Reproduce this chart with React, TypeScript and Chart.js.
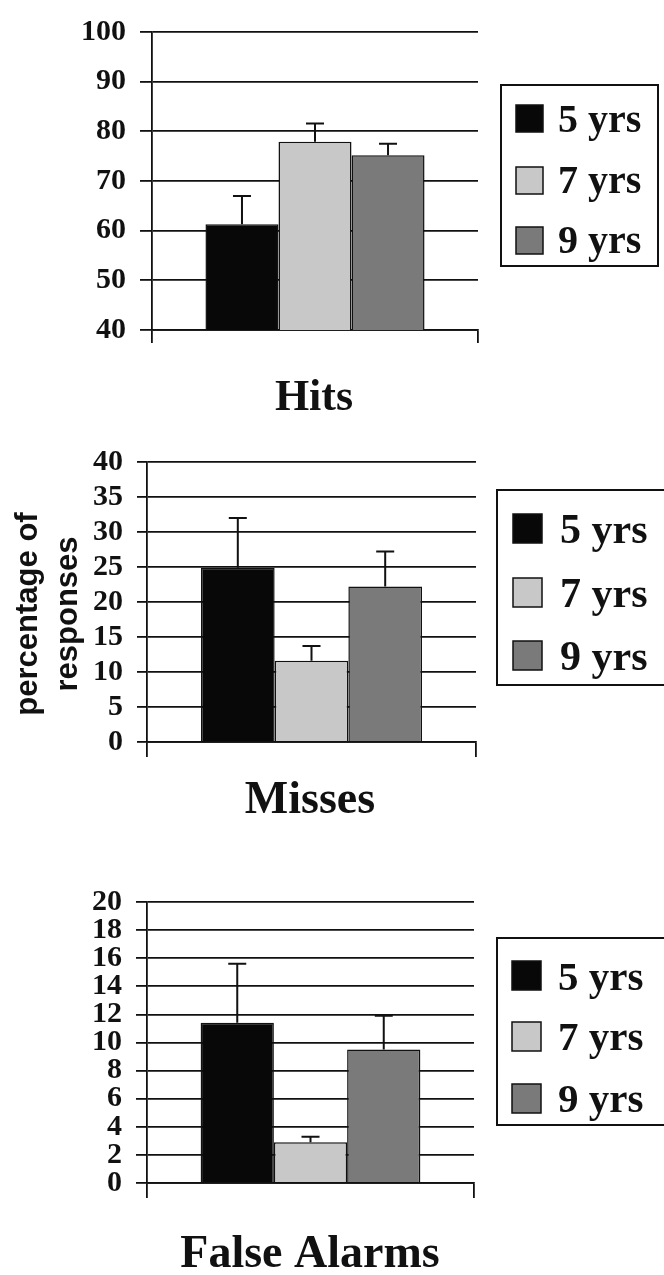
import React, { useEffect, useRef } from 'react';
import { Chart, registerables } from 'chart.js';

Chart.register(...registerables);

// ---------- data ----------
const categories = [''];
const ageGroups = ['5 yrs', '7 yrs', '9 yrs'];
const groupColors = ['#080808', '#c8c8c8', '#7a7a7a'];

const hitsMeans = [61.3, 77.9, 75.2];
const hitsErrors = [5.7, 3.7, 2.3];
const missesMeans = [24.9, 11.6, 22.2];
const missesErrors = [7.1, 2.1, 5.0];
const falseAlarmMeans = [11.4, 2.9, 9.5];
const falseAlarmErrors = [4.2, 0.4, 2.4];

const hitsAxis = [40, 100, 10];
const missesAxis = [0, 40, 5];
const falseAlarmAxis = [0, 20, 2];

const yAxisLabel = ['percentage of', 'responses'];

// ---------- layout (page pixels) ----------
type Panel = {
  title: string;
  means: number[];
  errors: number[];
  axis: number[];
  top: number;
  height: number;
  area: { l: number; r: number; t: number; b: number };
  yTick: number;
  xTick: number;
  legend: {
    x: number; y: number; w: number; h: number;
    sx: number; ss: number; swTops: number[];
    tx: number; baselines: number[]; font: number;
  };
  titlePos: { x: number; base: number; size: number };
  yLabel?: boolean;
};

const panels: Panel[] = [
  {
    title: 'Hits', means: hitsMeans, errors: hitsErrors, axis: hitsAxis,
    top: 0, height: 430,
    area: { l: 152, r: 478, t: 23, b: 330 }, yTick: 12, xTick: 13,
    legend: { x: 501, y: 85, w: 157, h: 181, sx: 516, ss: 27, swTops: [105, 167, 227], tx: 558, baselines: [132, 193, 253], font: 40 },
    titlePos: { x: 314, base: 410, size: 44 },
  },
  {
    title: 'Misses', means: missesMeans, errors: missesErrors, axis: missesAxis,
    top: 430, height: 440,
    area: { l: 147, r: 476, t: 442, b: 742 }, yTick: 10, xTick: 15,
    legend: { x: 497, y: 490, w: 200, h: 195, sx: 513, ss: 29, swTops: [514, 578, 641], tx: 560, baselines: [543, 607, 670], font: 42 },
    titlePos: { x: 310, base: 813, size: 46 },
    yLabel: true,
  },
  {
    title: 'False Alarms', means: falseAlarmMeans, errors: falseAlarmErrors, axis: falseAlarmAxis,
    top: 870, height: 405,
    area: { l: 147, r: 474, t: 892, b: 1183 }, yTick: 11, xTick: 15,
    legend: { x: 497, y: 938, w: 200, h: 187, sx: 512, ss: 29, swTops: [961, 1022, 1084], tx: 558, baselines: [990, 1050, 1112], font: 41 },
    titlePos: { x: 310, base: 1267, size: 46 },
  },
];

const Y_SCALE_W = 110;
const X_SCALE_H = 20;
const INK = '#111111';

function PanelChart({ p }: { p: Panel }) {
  const ref = useRef<HTMLCanvasElement | null>(null);

  useEffect(() => {
    const canvas = ref.current;
    if (!canvas) return;
    const off = p.top;

    const decor = {
      id: 'decor',
      afterDatasetsDraw(chart: any) {
        const ctx = chart.ctx;
        const ys = chart.scales.y;
        ctx.save();
        ctx.strokeStyle = INK;
        ctx.lineWidth = 2;
        chart.data.datasets.forEach((ds: any, i: number) => {
          const el = chart.getDatasetMeta(i).data[0];
          const v = ds.data[0];
          const e = p.errors[i];
          const yTop = ys.getPixelForValue(v + e);
          const yBar = ys.getPixelForValue(v);
          ctx.beginPath();
          ctx.moveTo(el.x, yBar);
          ctx.lineTo(el.x, yTop);
          ctx.moveTo(el.x - 9, yTop);
          ctx.lineTo(el.x + 9, yTop);
          ctx.stroke();
        });
        ctx.restore();
      },
      afterDraw(chart: any) {
        const ctx = chart.ctx;
        const L = p.legend;
        ctx.save();
        // legend
        ctx.strokeStyle = INK;
        ctx.lineWidth = 2;
        ctx.strokeRect(L.x, L.y - off, L.w, L.h);
        chart.data.datasets.forEach((ds: any, i: number) => {
          ctx.fillStyle = ds.backgroundColor;
          ctx.fillRect(L.sx, L.swTops[i] - off, L.ss, L.ss);
          ctx.lineWidth = 1.5;
          ctx.strokeRect(L.sx, L.swTops[i] - off, L.ss, L.ss);
          ctx.fillStyle = INK;
          ctx.font = `bold ${L.font}px "Liberation Serif", "Times New Roman", serif`;
          ctx.textAlign = 'left';
          ctx.textBaseline = 'alphabetic';
          ctx.fillText(ds.label, L.tx, L.baselines[i] - off);
        });
        // title under the chart
        ctx.font = `bold ${p.titlePos.size}px "Liberation Serif", "Times New Roman", serif`;
        ctx.textAlign = 'center';
        ctx.fillStyle = INK;
        ctx.fillText(p.title, p.titlePos.x, p.titlePos.base - off);
        // y-axis label
        if (p.yLabel) {
          ctx.font = 'bold 31px "Liberation Sans", Arial, sans-serif';
          const baseXs = [37, 77];
          yAxisLabel.forEach((line, i) => {
            ctx.save();
            ctx.translate(baseXs[i], 614 - off);
            ctx.rotate(-Math.PI / 2);
            ctx.textAlign = 'center';
            ctx.fillText(line, 0, 0);
            ctx.restore();
          });
        }
        ctx.restore();
      },
    };

    const chart = new Chart(canvas, {
      type: 'bar',
      data: {
        labels: categories,
        datasets: ageGroups.map((g, i) => ({
          label: g,
          data: [p.means[i]],
          backgroundColor: groupColors[i],
          borderColor: INK,
          borderWidth: 1.5,
          categoryPercentage: 0.672,
          barPercentage: 1,
        })),
      },
      options: {
        responsive: false,
        animation: false,
        devicePixelRatio: 1,
        layout: {
          padding: {
            left: p.area.l - Y_SCALE_W,
            right: 664 - p.area.r,
            top: p.area.t - p.top,
            bottom: p.height - (p.area.b - p.top) - X_SCALE_H,
          },
        },
        plugins: {
          legend: { display: false },
          title: { display: false },
          tooltip: { enabled: false },
        },
        scales: {
          x: {
            afterFit: (s: any) => { s.height = X_SCALE_H; },
            ticks: { display: false },
            grid: {
              offset: true,
              drawOnChartArea: false,
              drawTicks: true,
              tickLength: p.xTick,
              color: INK,
              lineWidth: 1.8,
            },
            border: { display: true, color: INK, width: 1.8 },
          },
          y: {
            min: p.axis[0],
            max: p.axis[1],
            afterFit: (s: any) => { s.width = Y_SCALE_W; },
            ticks: {
              stepSize: p.axis[2],
              autoSkip: false,
              padding: 14,
              color: INK,
              font: { family: '"Liberation Serif", "Times New Roman", serif', weight: 'bold', size: 30 },
            },
            grid: {
              color: INK,
              lineWidth: 1.8,
              drawTicks: true,
              tickLength: p.yTick,
            },
            border: { display: true, color: INK, width: 1.8 },
          },
        },
      },
      plugins: [decor],
    } as any);

    return () => chart.destroy();
  }, [p]);

  return (
    <canvas
      ref={ref}
      width={664}
      height={p.height}
      style={{ position: 'absolute', left: 0, top: p.top, width: 664, height: p.height, display: 'block' }}
    />
  );
}

export default function App() {
  return (
    <div style={{ position: 'absolute', left: 0, top: 0, width: 664, height: 1275, background: '#ffffff', overflow: 'hidden' }}>
      {panels.map((p) => (
        <PanelChart key={p.title} p={p} />
      ))}
    </div>
  );
}
